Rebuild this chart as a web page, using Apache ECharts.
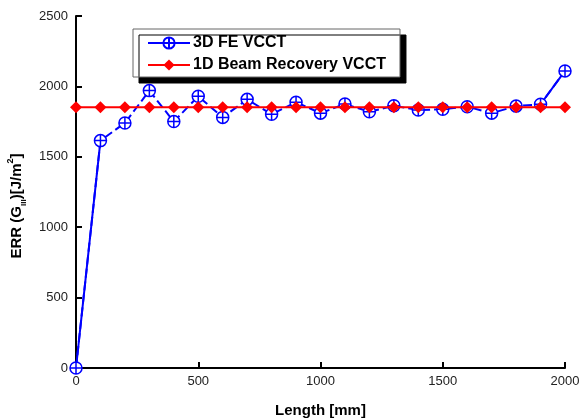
<!DOCTYPE html>
<html lang="en">
<head>
    <meta charset="UTF-8">
    <title>ERR vs Length</title>
    <script src="https://cdn.jsdelivr.net/npm/echarts@6/dist/echarts.min.js"></script>
</head>
<body style="margin:0;">
<div id="main" style="width:580px;height:420px;"></div>
<script type="text/javascript">
    // data
    var lengths = [0, 100, 200, 300, 400, 500, 600, 700, 800, 900, 1000,
        1100, 1200, 1300, 1400, 1500, 1600, 1700, 1800, 1900, 2000];
    var fe3d = [0, 1615, 1740, 1970, 1750, 1930, 1780, 1908, 1802, 1888, 1810,
        1875, 1820, 1862, 1832, 1838, 1856, 1810, 1860, 1873, 2110];
    var beam1d = [1852, 1852, 1852, 1852, 1852, 1852, 1852, 1852, 1852, 1852, 1852,
        1852, 1852, 1852, 1852, 1852, 1852, 1852, 1852, 1852, 1852];
    var xTicks = [0, 500, 1000, 1500, 2000];
    var yTicks = [0, 500, 1000, 1500, 2000, 2500];

    function pairs(xs, ys) {
        var out = [];
        for (var i = 0; i < xs.length; i++) out.push([xs[i], ys[i]]);
        return out;
    }
    // first and last segment of the FE curve are drawn solid
    function endSegments(xs, ys) {
        var out = [];
        for (var i = 0; i < xs.length; i++) {
            var keep = i <= 1 || i >= xs.length - 2;
            out.push([xs[i], keep ? ys[i] : null]);
        }
        return out;
    }

    var font = 'Liberation Sans, Arial, sans-serif';
    var crossCircle = 'path://M10,0A10,10,0,1,1,10,20A10,10,0,1,1,10,0ZM10,0L10,20M0,10L20,10';

    var myChart = echarts.init(document.getElementById('main'));
    var option = {
        animation: false,
        backgroundColor: '#fff',
        grid: {left: 76, right: 15, top: 16, bottom: 52, outerBoundsMode: 'none'},
        legend: {
            data: ['3D FE VCCT', '1D Beam Recovery VCCT'],
            orient: 'vertical',
            left: 133,
            top: 29,
            padding: [6, 14, 4, 14],
            itemGap: 6,
            itemWidth: 42,
            itemHeight: 14,
            backgroundColor: '#fff',
            borderColor: '#666',
            borderWidth: 1,
            shadowColor: '#000',
            shadowBlur: 0,
            shadowOffsetX: 6,
            shadowOffsetY: 6,
            lineStyle: {type: 'solid'},
            textStyle: {fontFamily: font, fontWeight: 'bold', fontSize: 16, color: '#000', padding: [0, 0, 0, -2]}
        },
        xAxis: {
            type: 'value',
            min: xTicks[0],
            max: xTicks[xTicks.length - 1],
            interval: 500,
            name: 'Length [mm]',
            nameLocation: 'middle',
            nameGap: 35,
            nameTextStyle: {fontFamily: font, fontWeight: 'bold', fontSize: 15, color: '#000'},
            axisLine: {lineStyle: {color: '#000', width: 2}},
            axisTick: {inside: true, length: 6, lineStyle: {color: '#000', width: 2}},
            axisLabel: {margin: 7, fontFamily: font, fontSize: 13, color: '#222',
                formatter: function (v) { return String(v); }},
            splitLine: {show: false}
        },
        yAxis: {
            type: 'value',
            min: yTicks[0],
            max: yTicks[yTicks.length - 1],
            interval: 500,
            name: '{a|ERR (G}{sub|III}{a|)[J/m}{sup|2}{a|]}',
            nameLocation: 'middle',
            nameGap: 40,
            nameTextStyle: {
                fontFamily: font, fontWeight: 'bold', fontSize: 15, color: '#000',
                padding: [0, 28, 0, 0],
                rich: {
                    a: {fontFamily: font, fontWeight: 'bold', fontSize: 15, color: '#000', lineHeight: 22},
                    sub: {fontFamily: font, fontWeight: 'bold', fontSize: 8, color: '#000', verticalAlign: 'bottom', lineHeight: 10},
                    sup: {fontFamily: font, fontWeight: 'bold', fontSize: 9, color: '#000', verticalAlign: 'top', lineHeight: 10}
                }
            },
            axisLine: {show: true, lineStyle: {color: '#000', width: 2}},
            axisTick: {show: true, inside: true, length: 6, lineStyle: {color: '#000', width: 2}},
            axisLabel: {margin: 8, fontFamily: font, fontSize: 13, color: '#222',
                formatter: function (v) { return String(v); }},
            splitLine: {show: false}
        },
        series: [
            {
                name: '3D FE VCCT',
                type: 'line',
                data: pairs(lengths, fe3d),
                symbol: crossCircle,
                symbolSize: 12,
                showAllSymbol: true,
                lineStyle: {color: '#0000ff', width: 2, type: [9, 4]},
                itemStyle: {color: '#fff', borderColor: '#0000ff', borderWidth: 1.5},
                z: 2
            },
            {
                name: '3D FE VCCT solid',
                type: 'line',
                data: endSegments(lengths, fe3d),
                symbol: 'none',
                connectNulls: false,
                lineStyle: {color: '#0000ff', width: 2},
                z: 1
            },
            {
                name: '1D Beam Recovery VCCT',
                type: 'line',
                data: pairs(lengths, beam1d),
                symbol: 'diamond',
                symbolSize: [12, 12],
                showAllSymbol: true,
                lineStyle: {color: '#ff0000', width: 2},
                itemStyle: {color: '#ff0000', borderColor: '#ff0000', borderWidth: 0},
                z: 3
            }
        ]
    };
    myChart.setOption(option);
</script>
</body>
</html>
